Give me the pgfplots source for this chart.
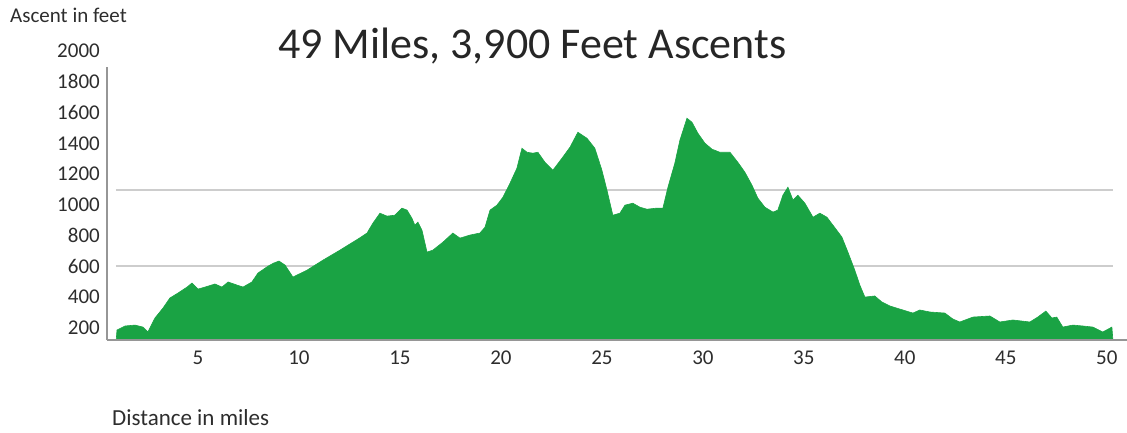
\documentclass[border=0pt]{standalone}
\usepackage{fontspec}
\setmainfont{Carlito}
\usepackage{pgfplots}
\pgfplotsset{compat=1.18}
\definecolor{prof}{RGB}{26,163,68}
\definecolor{txt}{RGB}{45,45,45}
\definecolor{axl}{RGB}{150,150,150}
\definecolor{grd}{RGB}{205,205,205}
\begin{document}
\begin{tikzpicture}[x=1pt,y=1pt]
\useasboundingbox (-107,-92) rectangle (1020,340);
\begin{axis}[
  at={(0,0)}, anchor=south west,
  scale only axis, width=1020pt, height=289pt,
  xmin=0.495, xmax=51.0, ymin=122, ymax=2000,
  axis line style={draw=none},
  major tick length=0pt,
  xtick={5,10,...,50}, ytick={200,400,...,2000},
  /pgf/number format/assume math mode=true,
  /pgf/number format/set thousands separator={},
  ticklabel style={font=\fontsize{21}{21}\selectfont, text=txt, inner sep=0pt},
  yticklabel style={anchor=east, xshift=-7pt},
  xticklabel style={anchor=north, yshift=-11pt},
]
\draw[grd, line width=2pt] (axis cs:0.94,600) -- (axis cs:50.3,600);
\draw[grd, line width=2pt] (axis cs:0.94,1100) -- (axis cs:50.3,1100);
\addplot[fill=prof, draw=prof, line width=0.6pt] coordinates {
(0.95,122) (0.99,187) (1.39,213) (1.88,219) (2.28,206) (2.52,174) (2.87,265) (3.27,330) (3.61,395) (4.01,427) (4.46,466) (4.70,492) (5.00,453) (5.35,466) (5.84,486) (6.19,466) (6.49,499) (6.93,479) (7.23,466) (7.67,499) (7.97,557) (8.47,602) (8.75,622) (9.01,635) (9.31,609) (9.70,531) (10.40,576) (11.19,641) (12.03,706) (12.67,758) (12.92,778) (13.37,817) (13.66,881) (14.01,946) (14.36,927) (14.75,933) (15.10,979) (15.35,966) (15.59,914) (15.74,868) (15.89,888) (16.09,836) (16.34,693) (16.63,706) (17.13,758) (17.62,817) (17.97,784) (18.47,804) (18.96,817) (19.21,855) (19.46,966) (19.80,998) (20.10,1050) (20.45,1141) (20.79,1238) (21.04,1368) (21.29,1342) (21.58,1336) (21.83,1342) (22.18,1277) (22.57,1225) (23.02,1303) (23.42,1375) (23.81,1472) (24.26,1433) (24.65,1368) (25.00,1225) (25.25,1096) (25.54,933) (25.89,946) (26.14,998) (26.53,1011) (26.88,985) (27.23,972) (27.72,979) (28.02,979) (28.27,1115) (28.61,1271) (28.86,1420) (29.21,1563) (29.46,1537) (29.75,1466) (30.10,1401) (30.45,1362) (30.84,1342) (31.34,1342) (31.73,1277) (32.08,1212) (32.43,1128) (32.72,1044) (33.07,985) (33.47,953) (33.71,966) (33.96,1063) (34.21,1115) (34.46,1031) (34.70,1063) (35.05,1011) (35.45,920) (35.79,946) (36.14,920) (36.44,868) (36.88,791) (37.18,693) (37.52,576) (37.77,479) (38.02,401) (38.51,408) (38.86,369) (39.26,343) (39.75,323) (40.40,297) (40.74,317) (41.24,304) (41.98,297) (42.38,258) (42.72,239) (43.37,271) (44.21,278) (44.70,239) (45.35,252) (46.19,239) (46.58,271) (46.98,310) (47.28,265) (47.52,271) (47.82,206) (48.32,219) (48.81,213) (49.31,206) (49.80,174) (50.25,206) (50.30,122)
} \closedcycle;
\end{axis}
\draw[axl, line width=1.5pt] (0,0) -- (1020,0);
\draw[axl, line width=1.5pt] (0,0) -- (0,273);
\node[anchor=base west, inner sep=0pt, text=txt, font=\fontsize{21}{21}\selectfont] at (-97,317) {Ascent in feet};
\node[anchor=base west, inner sep=0pt, text=txt, font=\fontsize{23}{23}\selectfont] at (5,-85) {Distance in miles};
\node[anchor=base west, inner sep=0pt, text={black!85}, font=\fontsize{44}{44}\selectfont] at (171,282) {49 Miles, 3,900 Feet Ascents};
\end{tikzpicture}
\end{document}
